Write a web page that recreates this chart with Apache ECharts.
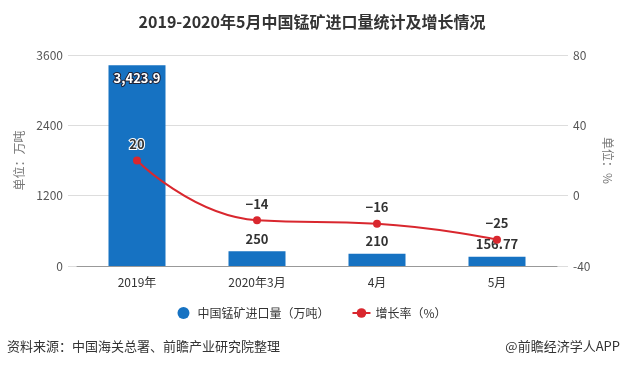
<!DOCTYPE html>
<html><head><meta charset="utf-8">
<script src="https://cdn.jsdelivr.net/npm/echarts@6/dist/echarts.min.js"></script>
<style>html,body{margin:0;padding:0;background:#fff}#c{width:624px;height:368px}</style>
</head><body><div id="c"></div>
<script>
const categories = ['2019年', '2020年3月', '4月', '5月'];
const importVolume = [3423.9, 250, 210, 156.77];
const growthRate = [20, -14, -16, -25];
const leftTicks = [0, 1200, 2400, 3600];
const rightTicks = [-40, 0, 40, 80];

const FONT = '"Noto Sans CJK SC", "Microsoft YaHei", sans-serif';
const chart = echarts.init(document.getElementById('c'));
chart.setOption({
  animation: false,
  textStyle: { fontFamily: FONT },
  title: {
    text: '2019-2020年5月中国锰矿进口量统计及增长情况',
    left: 'center', top: 9,
    textStyle: { fontSize: 16, fontWeight: 'bold', color: '#333', fontFamily: FONT }
  },
  graphic: [
    { type: 'text', left: 7, top: 340, style: { text: '资料来源：中国海关总署、前瞻产业研究院整理', fontSize: 13, fill: '#333', fontFamily: FONT } },
    { type: 'text', right: 4, top: 340, style: { text: '@前瞻经济学人APP', fontSize: 13, fill: '#333', fontFamily: FONT } }
  ],
  legend: {
    bottom: 44, left: 'center', itemGap: 22, itemWidth: 18, itemHeight: 12,
    textStyle: { fontSize: 12, color: '#333', fontFamily: FONT },
    data: [{ name: '中国锰矿进口量（万吨）', icon: 'circle' }, { name: '增长率（%）' }]
  },
  grid: [
    { left: 77, right: 67, top: 55, bottom: 102 },
    { left: 68, right: 56, top: 55, bottom: 102 }
  ],
  xAxis: [
    {
      type: 'category', data: categories, gridIndex: 0,
      axisTick: { alignWithLabel: true, lineStyle: { color: '#999' } },
      axisLine: { lineStyle: { color: '#999' } },
      axisLabel: { color: '#333', fontSize: 12, margin: 10 }
    },
    { type: 'value', gridIndex: 1, show: false, min: 0, max: 1 }
  ],
  yAxis: [
    {
      type: 'value', gridIndex: 0, min: leftTicks[0], max: leftTicks[leftTicks.length - 1], interval: 1200,
      name: '单位：万吨', nameLocation: 'middle', nameRotate: 90, nameGap: 46,
      nameTextStyle: { color: '#777', fontSize: 12 },
      axisLabel: { color: '#555', fontSize: 12, margin: 14, formatter: v => String(v) },
      axisLine: { show: false }, axisTick: { show: false },
      splitLine: { show: false }
    },
    {
      type: 'value', gridIndex: 0, min: rightTicks[0], max: rightTicks[rightTicks.length - 1], interval: 40,
      name: '单位：%', nameLocation: 'middle', nameRotate: -90, nameGap: 40,
      nameTextStyle: { color: '#777', fontSize: 12 },
      axisLabel: { color: '#555', fontSize: 12, margin: 16 },
      axisLine: { show: false }, axisTick: { show: false },
      splitLine: { show: false }
    },
    {
      type: 'value', gridIndex: 1, min: leftTicks[0], max: leftTicks[leftTicks.length - 1], interval: 1200,
      axisLabel: { show: false }, axisLine: { show: false }, axisTick: { show: false },
      splitLine: { lineStyle: { color: '#ddd' } }
    }
  ],
  series: [
    {
      name: '中国锰矿进口量（万吨）', type: 'bar', barWidth: 57,
      itemStyle: { color: '#1672c2' },
      data: importVolume.map((v, i) => ({
        value: v,
        label: i === 0
          ? { show: true, position: 'insideTop', distance: 6, color: '#fff', textBorderColor: '#223', textBorderWidth: 2 }
          : { show: true, position: 'top', distance: 6, color: '#333', textBorderColor: '#fff', textBorderWidth: 2 }
      })),
      label: {
        show: true, fontSize: 13, fontWeight: 'bold', fontFamily: FONT,
        formatter: p => p.dataIndex === 0 ? p.value.toLocaleString('en-US', { minimumFractionDigits: 1 }) : String(p.value)
      }
    },
    {
      name: '增长率（%）', type: 'line', yAxisIndex: 1, smooth: true,
      symbol: 'circle', symbolSize: 8,
      itemStyle: { color: '#d9272e' },
      lineStyle: { color: '#d9272e', width: 2 },
      data: growthRate,
      label: {
        show: true, position: 'top', distance: 6, fontSize: 13, fontWeight: 'bold',
        color: '#333', textBorderColor: '#fff', textBorderWidth: 2, fontFamily: FONT,
        formatter: p => p.value < 0 ? '−' + Math.abs(p.value) : String(p.value)
      }
    }
  ]
});
</script></body></html>
